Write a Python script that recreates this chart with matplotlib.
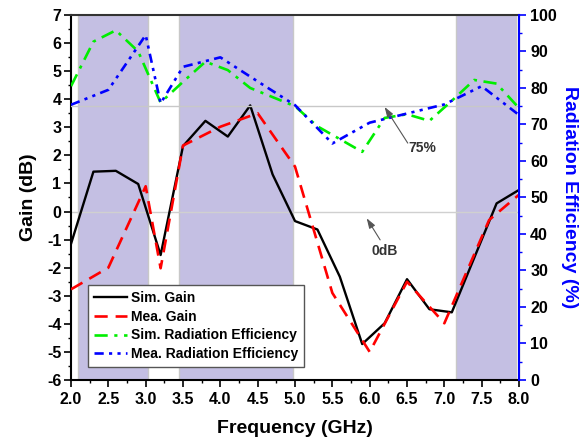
import matplotlib
matplotlib.use("Agg")
import matplotlib.pyplot as plt
from matplotlib.ticker import MultipleLocator, FormatStrFormatter

plt.rcParams['font.family'] = ['Liberation Sans', 'DejaVu Sans']
plt.rcParams['font.weight'] = 'bold'
plt.rcParams['axes.unicode_minus'] = False

# simulated data (0.3 GHz step)
freq_sim = [2.0, 2.3, 2.6, 2.9, 3.2, 3.5, 3.8, 4.1, 4.4, 4.7, 5.0,
            5.3, 5.6, 5.9, 6.2, 6.5, 6.8, 7.1, 7.4, 7.7, 8.0]
sim_gain = [-1.15, 1.42, 1.45, 0.98, -1.55, 2.33, 3.23, 2.67, 3.78, 1.32, -0.34,
            -0.64, -2.32, -4.72, -3.98, -2.41, -3.48, -3.59, -1.65, 0.29, 0.77]
sim_eff = [80.5, 92.7, 95.8, 90.0, 76.0, 81.7, 87.2, 84.9, 80.0, 77.5, 75.0,
           69.5, 66.0, 62.5, 71.8, 72.8, 71.0, 76.5, 82.2, 81.2, 74.5]

# measured data
freq_mea_gain = [2.0, 2.5, 3.0, 3.2, 3.5, 4.0, 4.5, 5.0, 5.5, 6.0, 6.5, 7.0, 7.6, 8.0]
mea_gain = [-2.77, -2.0, 0.9, -2.02, 2.35, 3.02, 3.5, 1.6, -2.9, -5.0, -2.5, -3.98, -0.3, 0.6]
freq_mea_eff = [2.0, 2.5, 3.0, 3.2, 3.5, 4.0, 4.5, 5.0, 5.5, 6.0, 6.5, 7.0, 7.5, 8.0]
mea_eff = [75.4, 79.5, 94.5, 75.8, 85.8, 88.4, 81.8, 75.3, 64.8, 70.5, 73.0, 75.5, 80.5, 72.6]

# operating bands (GHz)
bands = [(2.09, 3.03), (3.45, 4.97), (7.15, 7.96)]

fig = plt.figure(figsize=(5.85, 4.45), dpi=100)
ax = fig.add_axes([0.1214, 0.1461, 0.7658, 0.8202])
ax2 = ax.twinx()

for b0, b1 in bands:
    ax.axvspan(b0, b1, facecolor='#c4bfe3', edgecolor='#c8c8c8', lw=1.0, zorder=0)
ax.axhline(0, color='#d0d0d0', lw=1.0, zorder=1)
ax2.axhline(75, color='#c8c8c8', lw=1.0, zorder=1)

l1, = ax.plot(freq_sim, sim_gain, color='black', lw=1.7, label='Sim. Gain', zorder=3)
l2, = ax.plot(freq_mea_gain, mea_gain, color='#ff0000', lw=1.9, dashes=(5, 3),
              label='Mea. Gain', zorder=3)
l3, = ax2.plot(freq_sim, sim_eff, color='#00ee00', lw=1.9, dashes=(5, 2.5, 1.2, 2.5),
               label='Sim. Radiation Efficiency', zorder=3)
l4, = ax2.plot(freq_mea_eff, mea_eff, color='#0000ff', lw=1.9,
               dashes=(3.5, 2, 1.2, 2, 1.2, 2), label='Mea. Radiation Efficiency', zorder=3)

ax.set_xlim(2.0, 8.0)
ax.set_ylim(-6, 7)
ax2.set_ylim(0, 100)

ax.xaxis.set_major_locator(MultipleLocator(0.5))
ax.xaxis.set_minor_locator(MultipleLocator(0.25))
ax.yaxis.set_major_locator(MultipleLocator(1))
ax.yaxis.set_minor_locator(MultipleLocator(0.5))
ax2.yaxis.set_major_locator(MultipleLocator(10))
ax2.yaxis.set_minor_locator(MultipleLocator(5))
ax.xaxis.set_major_formatter(FormatStrFormatter('%.1f'))

ax.tick_params(axis='both', which='major', direction='out', length=5, width=1.2,
               labelsize=11.5, pad=2)
ax.tick_params(axis='both', which='minor', direction='out', length=2.5, width=1.0)
ax.tick_params(axis='x', which='major', pad=4)
ax2.tick_params(axis='y', which='major', direction='out', length=5, width=1.2,
                color='#0000ff', labelsize=11.5, pad=3)
ax2.tick_params(axis='y', which='minor', direction='out', length=2.5, width=1.0,
                color='#0000ff')

for s in ['left', 'bottom']:
    ax.spines[s].set_linewidth(1.5)
ax.spines['top'].set_color('#333333')
ax.spines['top'].set_linewidth(1.5)
ax2.spines['right'].set_color('#0000ff')
ax2.spines['right'].set_linewidth(1.5)
ax2.spines['top'].set_visible(False)
ax2.spines['left'].set_visible(False)
ax2.spines['bottom'].set_visible(False)

ax.set_xlabel('Frequency (GHz)', fontsize=14, fontweight='bold', labelpad=9)
ax.set_ylabel('Gain (dB)', fontsize=14, fontweight='bold', labelpad=7)
ax2.set_ylabel('Radiation Efficiency (%)', fontsize=14, fontweight='bold',
               color='#0000ff', rotation=270, labelpad=15)

# reference level markers
ax2.annotate('', xy=(6.2, 74.8), xytext=(6.51, 64.9),
             arrowprops=dict(arrowstyle='-|>,head_length=0.6,head_width=0.2',
                             color='#555555', lw=0.8, shrinkA=0, shrinkB=0))
ax2.text(6.7, 63.6, '75%', fontsize=10, fontweight='bold', color='#333333',
         ha='center', va='center')
ax.annotate('', xy=(5.96, -0.24), xytext=(6.14, -1.01),
            arrowprops=dict(arrowstyle='-|>,head_length=0.6,head_width=0.2',
                            color='#555555', lw=0.8, shrinkA=0, shrinkB=0))
ax.text(6.2, -1.39, '0dB', fontsize=10, fontweight='bold', color='#333333',
        ha='center', va='center')

for lab in ax.get_xticklabels() + ax.get_yticklabels() + ax2.get_yticklabels():
    lab.set_fontweight('bold')

leg = ax2.legend(handles=[l1, l2, l3, l4], loc='lower left',
                 bbox_to_anchor=(0.038, 0.036), borderaxespad=0, fontsize=10,
                 frameon=True, fancybox=False, handlelength=2.4, handletextpad=0.3,
                 labelspacing=0.35, borderpad=0.4)
leg.get_frame().set_edgecolor('#555555')
leg.get_frame().set_linewidth(1.0)
leg.get_frame().set_alpha(1.0)
leg.set_zorder(10)

fig.savefig('out.png', dpi=100)
